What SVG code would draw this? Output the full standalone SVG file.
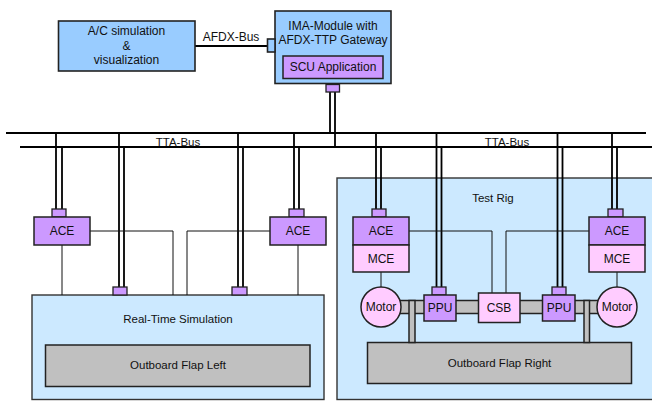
<svg xmlns="http://www.w3.org/2000/svg" width="652" height="401" viewBox="0 0 652 401">
<style>
text{font-family:"Liberation Sans",Arial,sans-serif;font-size:12px;fill:#111;text-anchor:middle}
.t11{font-size:11.5px}
.blue{fill:#99ccff;stroke:#222;stroke-width:1.6}
.lite{fill:#cce9ff;stroke:#333;stroke-width:1.4}
.pur{fill:#cc99ff;stroke:#222;stroke-width:1.5}
.pink{fill:#ffccff;stroke:#222;stroke-width:1.5}
.gray{fill:#c0c0c0;stroke:#222;stroke-width:1.5}
.port{fill:#cc99ff;stroke:#222;stroke-width:1.3}
.bus{stroke:#000;stroke-width:2;fill:none}
.drop{stroke:#000;stroke-width:1.8;fill:none}
.wire{stroke:#111;stroke-width:1;fill:none}
</style>
<g id="rts">
<rect class="lite" x="32" y="295" width="292" height="104.5"/>
<text class="t11" x="178" y="323">Real-Time Simulation</text>
<rect class="gray" x="45.5" y="345" width="264.5" height="41.5"/>
<text class="t11" x="178" y="369">Outboard Flap Left</text>
</g>
<g id="testrig">
<rect class="lite" x="337" y="178" width="330" height="221.5"/>
<text class="t11" x="493" y="202">Test Rig</text>
</g>
<g id="connectors">
<line class="bus" x1="6" y1="133" x2="646" y2="133"/>
<line class="bus" x1="20" y1="147" x2="652" y2="147"/>
<line class="bus" x1="195" y1="46" x2="268" y2="46"/>
<path class="drop" d="M330 92V133M335 92V147"/>
<path class="drop" d="M56 133V209M62 147V209"/>
<path class="drop" d="M119 133V287M124 147V287"/>
<path class="drop" d="M238 133V287M243 147V287"/>
<path class="drop" d="M294 133V209M299 147V209"/>
<path class="drop" d="M376 133V209M381 147V209"/>
<path class="drop" d="M436.5 133V287M441.5 147V287"/>
<path class="drop" d="M557.5 133V287M562.5 147V287"/>
<path class="drop" d="M612 133V209M617 147V209"/>
<path class="wire" d="M62 245V295M90 231H173V295M270 231H187V295M298 245V295"/>
<path class="wire" d="M409 231H492V293M589 231H506V293M381 272V287M617 272V287"/>
</g>
<g id="ac">
<rect class="blue" x="58.5" y="21" width="136.5" height="50"/>
<text x="126.5" y="35">A/C simulation</text>
<text x="126.5" y="50">&amp;</text>
<text x="126.5" y="64">visualization</text>
</g>
<text x="231" y="41">AFDX-Bus</text>
<g id="ima">
<rect class="blue" x="275" y="11" width="116" height="72.5"/>
<text x="333" y="30">IMA-Module with</text>
<text x="333" y="44">AFDX-TTP Gateway</text>
<rect class="pur" x="283" y="56" width="100" height="22.5"/>
<text x="333" y="71">SCU Application</text>
<rect class="blue" x="267.5" y="39" width="7.5" height="13"/>
<rect class="port" x="326" y="84.5" width="13.5" height="7.5"/>
</g>
<text class="t11" x="178" y="145.5">TTA-Bus</text>
<text class="t11" x="507" y="145.5">TTA-Bus</text>
<g id="rts-ports">
<rect class="port" x="113" y="287" width="14" height="8"/>
<rect class="port" x="232" y="287" width="15" height="8"/>
</g>
<g id="ace-l">
<rect class="port" x="52" y="209" width="14" height="8"/>
<rect class="pur" x="34" y="217" width="56" height="28"/>
<text x="62" y="235">ACE</text>
</g>
<g id="ace-r">
<rect class="port" x="289" y="209" width="15" height="8"/>
<rect class="pur" x="270" y="217" width="56" height="28"/>
<text x="298" y="235">ACE</text>
</g>
<g id="flap-right">
<rect class="gray" x="367.5" y="342.5" width="264" height="41"/>
<text class="t11" x="499.5" y="367">Outboard Flap Right</text>
</g>
<g id="shaft">
<rect class="gray" x="395" y="300.5" width="208" height="13"/>
<rect class="gray" x="409" y="300.5" width="6" height="42"/>
<rect class="gray" x="584" y="300.5" width="5.5" height="42"/>
</g>
<g id="tr-ace-l">
<rect class="port" x="372" y="209" width="14" height="8"/>
<rect class="pur" x="353" y="217" width="56" height="28"/>
<text x="381" y="235">ACE</text>
<rect class="pink" x="353" y="245" width="56" height="27"/>
<text x="381" y="263">MCE</text>
</g>
<g id="tr-ace-r">
<rect class="port" x="608" y="209" width="15" height="8"/>
<rect class="pur" x="589" y="217" width="56" height="28"/>
<text x="617" y="235">ACE</text>
<rect class="pink" x="589" y="245" width="56" height="27"/>
<text x="617" y="263">MCE</text>
</g>
<g id="motor-l">
<circle class="pink" cx="381" cy="307" r="20"/>
<text x="381" y="311">Motor</text>
</g>
<g id="motor-r">
<circle class="pink" cx="617" cy="307" r="20"/>
<text x="617" y="311">Motor</text>
</g>
<g id="ppu-l">
<rect class="port" x="432" y="287" width="14" height="8"/>
<rect class="pur" x="424" y="295" width="32" height="26"/>
<text x="440" y="312">PPU</text>
</g>
<g id="csb">
<rect class="pink" x="478.5" y="293" width="41.5" height="29.5"/>
<text x="499" y="312">CSB</text>
</g>
<g id="ppu-r">
<rect class="port" x="552" y="287" width="14" height="8"/>
<rect class="pur" x="542.5" y="295" width="32.5" height="26"/>
<text x="559" y="312">PPU</text>
</g>
</svg>
